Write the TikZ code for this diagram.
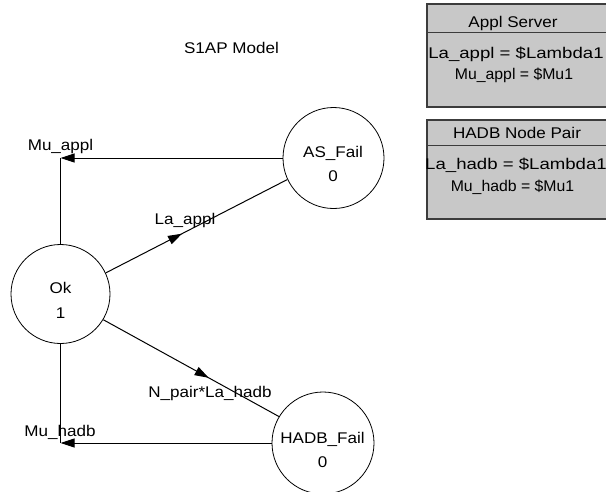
\documentclass[tikz,border=0pt]{standalone}
\usepackage{fontspec}
\setmainfont{Liberation Sans}[FakeStretch=1.1]
\newfontfamily\widefont{Liberation Sans}[FakeStretch=1.2]
\newfontfamily\narrowfont{Liberation Sans}[FakeStretch=1.02]
\usetikzlibrary{arrows.meta,decorations.markings}
\definecolor{boxfill}{RGB}{200,200,200}
\definecolor{boxline}{RGB}{60,60,60}
\tikzset{
  lbl/.style={inner sep=0pt, text height=11.1pt, text depth=0pt, font=\fontsize{15.5}{18}\selectfont},
  widelbl/.style={lbl, font=\widefont\fontsize{15.5}{18}\selectfont},
  narrowlbl/.style={lbl, font=\narrowfont\fontsize{15.5}{18}\selectfont},
  state/.style={draw=black, line width=0.8pt, circle, minimum size=#1, inner sep=0pt},
  conn/.style={draw=black, line width=1pt},
  tip/.style={-{Triangle[length=14pt,width=9pt]}},
  midtip/.style={postaction={decorate}, decoration={markings,
      mark=at position #1 with {\arrow{Triangle[length=14pt,width=9pt]}}}},
  infobox/.style={draw=boxline, fill=boxfill, line width=1.4pt},
  sepline/.style={draw=boxline, line width=1pt}
}
\begin{document}
\begin{tikzpicture}[x=1pt,y=-1pt]
\useasboundingbox (0,0) rectangle (606,491);

% title
\node[lbl] (title) at (231.5,47.5) {S1AP Model};

% states
\node[state=99pt] (ok) at (60.5,294) {};
\node[state=101pt] (as) at (333.5,158) {};
\node[state=102pt] (hb) at (323,443) {};

\node[lbl] (okname) at (60.5,288) {Ok};
\node[lbl] (okval) at (60.5,313) {1};
\node[lbl] (asname) at (333,151.5) {AS\_Fail};
\node[lbl] (asval) at (333,175.5) {0};
\node[lbl] (hbname) at (322.5,437.5) {HADB\_Fail};
\node[lbl] (hbval) at (322.5,461.5) {0};

% corner points
\coordinate (c1) at (60.5,158);
\coordinate (c2) at (60.5,443);

% connectors
\draw[conn] (ok.north) -- (c1);
\draw[conn,tip] (as.west) -- (c1);
\draw[conn] (ok.south) -- (c2);
\draw[conn,tip] (hb.west) -- (c2);
\draw[conn,midtip=0.42] (ok.25) -- (as.205);
\draw[conn,midtip=0.6] (ok.-31) -- (hb.149);

% edge labels
\node[lbl] (muappl) at (60.5,145) {Mu\_appl};
\node[lbl] (laappl) at (185,219) {La\_appl};
\node[lbl] (nla) at (210,392) {N\_pair*La\_hadb};
\node[lbl] (muhadb) at (60,431) {Mu\_hadb};

% info boxes
\path[infobox] (427,4) rectangle (612,107);
\draw[sepline] (427,32) -- (612,32);
\node[lbl] (b1t) at (513,21.5) {Appl Server};
\node[widelbl] (b1a) at (516,53) {La\_appl = \$Lambda1};
\node[narrowlbl] (b1b) at (514,74) {Mu\_appl = \$Mu1};

\path[infobox] (427,120) rectangle (612,219);
\draw[sepline] (427,145) -- (612,145);
\node[lbl] (b2t) at (517,132.5) {HADB Node Pair};
\node[widelbl] (b2a) at (516,164) {La\_hadb = \$Lambda1};
\node[narrowlbl] (b2b) at (512.5,186) {Mu\_hadb = \$Mu1};
\end{tikzpicture}
\end{document}
